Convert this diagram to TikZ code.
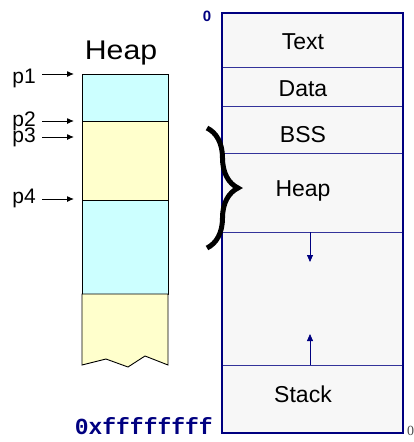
\documentclass[tikz,border=0pt]{standalone}
\usepackage{fontspec}
\setmainfont{Liberation Sans}
\newfontfamily\addrfont{Liberation Mono}
\newfontfamily\edgefont{Liberation Serif}
\usetikzlibrary{arrows.meta,decorations.pathreplacing}
\definecolor{segblue}{HTML}{000080}
\definecolor{cellcyan}{HTML}{CCFFFF}
\definecolor{cellyellow}{HTML}{FFFFCC}
\definecolor{boxgray}{HTML}{F7F7F7}

\begin{document}
\begin{tikzpicture}[x=1pt,y=-1pt,
	lbl/.style={font=\fontsize{23}{23}\selectfont, inner sep=0pt},
	ptr/.style={-{Latex[length=7pt,width=6pt]}, line width=1pt},
	growarrow/.style={segblue, line width=.8pt, -{Triangle[length=7pt,width=6pt]}}]
	\useasboundingbox (0,0) rectangle (414,442);

	% heap blocks on the left
	\foreach \top/\bot/\col in {74/121/cellcyan, 121/200/cellyellow, 200/294/cellcyan}
		\draw[fill=\col, line width=.9pt] (82,\top) rectangle (168,\bot);
	\draw[fill=cellyellow, line width=.9pt] (82,294) -- (82,365) -- (106,359)
		-- (128,367) -- (145,356) -- (168,365) -- (168,294) -- cycle;
	\node[lbl, font=\fontsize{27}{27}\selectfont, anchor=base] (heaptitle) at (121,59)
		{\scalebox{1.12}[1]{Heap}};

	% pointers into the heap
	\foreach \name/\ay/\by in {p1/74/83, p2/121/126, p3/137/142, p4/199/203}{
		\coordinate (\name tgt) at (74,\ay);
		\node[lbl, font=\fontsize{21}{21}\selectfont, anchor=base east] (\name) at (36,\by) {\name};
		\draw[ptr] (\name.east |- \name tgt) ++(6,0) -- (\name tgt);
	}

	% address space
	\fill[boxgray] (222,13) rectangle (403,433);
	\foreach \y in {67,106,153,232,365}
		\draw[segblue!80, line width=.7pt] (222,\y) -- (403,\y);
	\draw[segblue, line width=2.5pt] (222,13) rectangle (403,433);
	\foreach \name/\txt/\y in {text/Text/49, data/Data/96, bss/BSS/142, heap/Heap/196, stack/Stack/402}
		\node[lbl, anchor=base] (\name) at (303,\y) {\txt};

	% growth directions
	\coordinate (heapend) at (310,232);
	\coordinate (stacktop) at (310,365);
	\draw[growarrow] (heapend) -- ++(0,30);
	\draw[growarrow] (stacktop) -- ++(0,-31);

	\draw[line width=5pt, decorate, decoration={brace, amplitude=31pt}] (207,128) -- (207,248);

	\node[font=\fontsize{15}{15}\selectfont\bfseries, text=segblue, anchor=base, inner sep=0pt] (zero) at (207,21) {0};
	\node[font=\addrfont\bfseries\fontsize{23}{23}\selectfont, text=segblue, anchor=base east, inner sep=0pt] (addr) at (213,434) {0xffffffff};
	\node[font=\edgefont\fontsize{14}{14}\selectfont, text=black!70, anchor=base west, inner sep=0pt] (edge) at (407,435) {0};
\end{tikzpicture}
\end{document}
